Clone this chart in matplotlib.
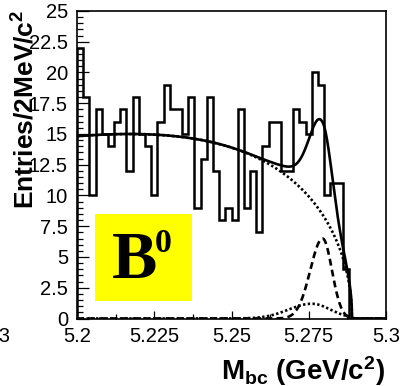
import numpy as np
import matplotlib
matplotlib.use("Agg")
import matplotlib.pyplot as plt
from matplotlib.patches import Rectangle
from matplotlib.ticker import FixedLocator, MultipleLocator

plt.rcParams['font.family'] = ['Liberation Sans', 'DejaVu Sans']
plt.rcParams['mathtext.fontset'] = 'custom'
plt.rcParams['mathtext.bf'] = 'Liberation Sans:bold'
plt.rcParams['mathtext.rm'] = 'Liberation Sans:bold'
plt.rcParams['mathtext.default'] = 'bf'

# Mbc histogram, 2 MeV bins from 5.20 to 5.30 GeV/c^2
bin_edges = np.round(np.arange(5.200, 5.3001, 0.002), 4)
counts = [22, 18, 10, 17, 15, 14, 16, 17, 12, 18,
          15, 14, 10, 16, 19, 17, 17, 15, 18, 9,
          13, 18, 12, 8, 9, 8, 17, 9, 12, 7,
          14, 16, 16, 12, 12, 17, 16, 15, 20, 19,
          10, 11, 11, 4, 0, 0, 0, 0, 0, 0]

# fit components
argus_end = 5.289      # kinematic endpoint
argus_shape = -18.0    # ARGUS curvature
argus_peak = 15.0      # height of background at its maximum
sig_height, sig_mean = 6.5, 5.2795
sig_width_lo, sig_width_hi = 0.0040, 0.0030
peak_bkg_height, peak_bkg_mean = 1.2, 5.276
peak_bkg_width_lo, peak_bkg_width_hi = 0.0075, 0.0060

y_ticks = [0, 2.5, 5, 7.5, 10, 12.5, 15, 17.5, 20, 22.5, 25]
y_tick_labels = ['0', '2.5', '5', '7.5', '10', '12.5', '15', '17.5', '20', '22.5', '25']
x_ticks = [5.2, 5.225, 5.25, 5.275, 5.3]
x_tick_labels = ['5.2', '5.225', '5.25', '5.275', '5.3']


def argus(m):
    z = np.clip(1 - (m / argus_end) ** 2, 0, None)
    return m * np.sqrt(z) * np.exp(argus_shape * z)


def bifur_gauss(m, h, mu, s_lo, s_hi):
    s = np.where(m < mu, s_lo, s_hi)
    return h * np.exp(-0.5 * ((m - mu) / s) ** 2)


m = np.linspace(5.2, 5.3, 1001)
bkg = argus(m)
bkg = argus_peak * bkg / bkg.max()
sig = bifur_gauss(m, sig_height, sig_mean, sig_width_lo, sig_width_hi)
pk = bifur_gauss(m, peak_bkg_height, peak_bkg_mean, peak_bkg_width_lo, peak_bkg_width_hi)
pk = np.where(m < argus_end, pk, 0)
total = bkg + sig + pk

fig = plt.figure(figsize=(4.02, 3.86), dpi=100)
ax = fig.add_axes([77 / 402, 67.5 / 386, 309 / 402, 307.5 / 386])

ax.stairs(counts, bin_edges, color='black', lw=1.8, baseline=0)
ax.plot(m, bkg, color='black', lw=1.9, ls=(0, (0.9, 0.9)))
ax.plot(m, pk, color='black', lw=1.9, ls=(0, (0.9, 0.9)))
ax.plot(m, sig, color='black', lw=1.9, ls=(0, (2.6, 1.6)))
ax.plot(m, total, color='black', lw=1.9)

ax.set_xlim(5.2, 5.3)
ax.set_ylim(0, 25)

ax.yaxis.set_major_locator(FixedLocator(y_ticks))
ax.set_yticklabels(y_tick_labels)
ax.yaxis.set_minor_locator(MultipleLocator(0.5))
ax.xaxis.set_major_locator(FixedLocator(x_ticks))
ax.set_xticklabels(x_tick_labels)
ax.xaxis.set_minor_locator(MultipleLocator(0.0125))

ax.tick_params(axis='both', which='both', direction='in', top=False, right=False,
               width=0.9, labelsize=14.5)
ax.tick_params(axis='y', which='major', length=8.5, pad=6.5)
ax.tick_params(axis='y', which='minor', length=4.3)
ax.tick_params(axis='x', which='major', length=6, pad=6)
ax.tick_params(axis='x', which='minor', length=3.6)
for sp in ax.spines.values():
    sp.set_linewidth(1.2)

# yellow B0 label box
ax.add_patch(Rectangle(((95.3 - 77) / 309, (318.5 - 300.7) / 307.5),
                       97 / 309, 86.4 / 307.5, transform=ax.transAxes,
                       facecolor='#ffff00', edgecolor='none', zorder=3))
fig.text(112 / 402, 1 - 278.3 / 386, 'B', family='Liberation Serif',
         fontweight='bold', fontsize=49, ha='left', va='baseline', zorder=4)
fig.text(154.5 / 402, 1 - 251.7 / 386, '0', family='Liberation Serif',
         fontweight='bold', fontsize=24.5, ha='left', va='baseline', zorder=4)

fig.text(12 / 402, 1 - 10 / 386, 'Entries/2MeV/c$^{2}$', rotation=90,
         ha='left', va='top', fontsize=19, fontweight='bold')
fig.text(385 / 402, 6 / 386, 'M$_{bc}$ (GeV/c$^{2}$)', ha='right',
         va='baseline', fontsize=20, fontweight='bold')
# edge of the neighbouring panel's axis label
fig.text(10 / 402, 1 - 336.5 / 386, '5.3', ha='right', va='center', fontsize=14.5)

fig.savefig('out.png', dpi=100)
